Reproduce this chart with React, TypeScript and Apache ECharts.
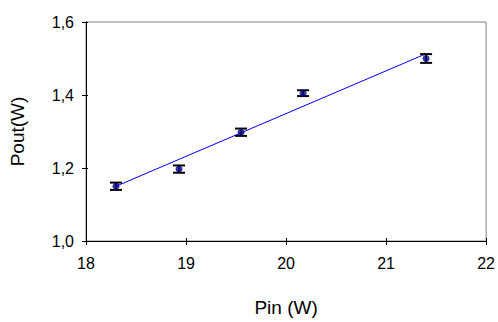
import React, { useEffect, useRef } from "react";
import * as echarts from "echarts";

const pinValues = [18.3, 18.93, 19.55, 20.17, 21.4];
const poutValues = [1.15, 1.197, 1.298, 1.405, 1.5];
const poutErrors = [0.01, 0.01, 0.01, 0.008, 0.012];
const trendX = [18.3, 21.4];
const trendY = [1.15, 1.513];

export default function App() {
  const ref = useRef<HTMLDivElement>(null);
  useEffect(() => {
    if (!ref.current) return;
    const chart = echarts.init(ref.current, undefined, { renderer: "svg" });
    const font = "Liberation Sans, Arial, sans-serif";
    const errData = pinValues.map((x, i) => [x, poutValues[i] - poutErrors[i], poutValues[i] + poutErrors[i]]);
    chart.setOption({
      animation: false,
      backgroundColor: "#ffffff",
      grid: {
        left: 78,
        right: 10,
        top: 22,
        bottom: 69,
        show: true,
        borderColor: "#808080",
        borderWidth: 1,
      },
      xAxis: [
        {
          type: "value",
          min: 18,
          max: 22,
          interval: 1,
          name: "Pin (W)",
          nameLocation: "middle",
          nameGap: 57,
          nameTextStyle: { color: "#000", fontSize: 19, fontFamily: font },
          axisLine: { show: true, lineStyle: { color: "#000", width: 1 } },
          axisTick: { show: true, length: 4, lineStyle: { color: "#000" } },
          axisLabel: { color: "#000", fontSize: 16, fontFamily: font, margin: 14 },
          splitLine: { show: false },
        },
        {
          type: "value",
          min: 18,
          max: 22,
          interval: 1,
          position: "bottom",
          axisLine: { show: false },
          axisTick: { show: true, inside: true, length: 3, lineStyle: { color: "#000" } },
          axisLabel: { show: false },
          splitLine: { show: false },
        },
      ],
      yAxis: [
        {
          type: "value",
          min: 1.0,
          max: 1.6,
          interval: 0.2,
          name: "Pout(W)",
          nameLocation: "middle",
          nameGap: 59,
          nameTextStyle: { color: "#000", fontSize: 19, fontFamily: font },
          axisLine: { show: true, lineStyle: { color: "#000", width: 1 } },
          axisTick: { show: true, length: 4, lineStyle: { color: "#000" } },
          axisLabel: {
            color: "#000",
            fontSize: 16,
            fontFamily: font,
            margin: 12,
            formatter: (v: number) => v.toFixed(1).replace(".", ","),
          },
          splitLine: { show: false },
        },
        {
          type: "value",
          min: 1.0,
          max: 1.6,
          interval: 0.2,
          position: "left",
          axisLine: { show: false },
          axisTick: { show: true, inside: true, length: 2, lineStyle: { color: "#000" } },
          axisLabel: { show: false },
          splitLine: { show: false },
        },
      ],
      series: [
        {
          type: "line",
          data: trendX.map((x, i) => [x, trendY[i]]),
          showSymbol: false,
          symbol: "none",
          lineStyle: { color: "#0000FF", width: 1 },
          z: 2,
        },
        {
          type: "custom",
          data: errData,
          z: 3,
          renderItem: (params: any, api: any) => {
            const x = api.value(0);
            const lo = api.coord([x, api.value(1)]);
            const hi = api.coord([x, api.value(2)]);
            const hw = 6;
            const style = { stroke: "#000", lineWidth: 2 };
            return {
              type: "group",
              children: [
                { type: "line", shape: { x1: lo[0], y1: lo[1], x2: hi[0], y2: hi[1] }, style: { stroke: "#000", lineWidth: 1.5 } },
                { type: "line", shape: { x1: lo[0] - hw, y1: lo[1], x2: lo[0] + hw, y2: lo[1] }, style },
                { type: "line", shape: { x1: hi[0] - hw, y1: hi[1], x2: hi[0] + hw, y2: hi[1] }, style },
              ],
            };
          },
        },
        {
          type: "scatter",
          data: pinValues.map((x, i) => [x, poutValues[i]]),
          symbol: "circle",
          symbolSize: 7,
          itemStyle: { color: "#000080" },
          z: 4,
        },
      ],
    });
    return () => chart.dispose();
  }, []);
  return <div ref={ref} style={{ position: "fixed", left: 0, top: 0, width: 498, height: 322 }} />;
}
